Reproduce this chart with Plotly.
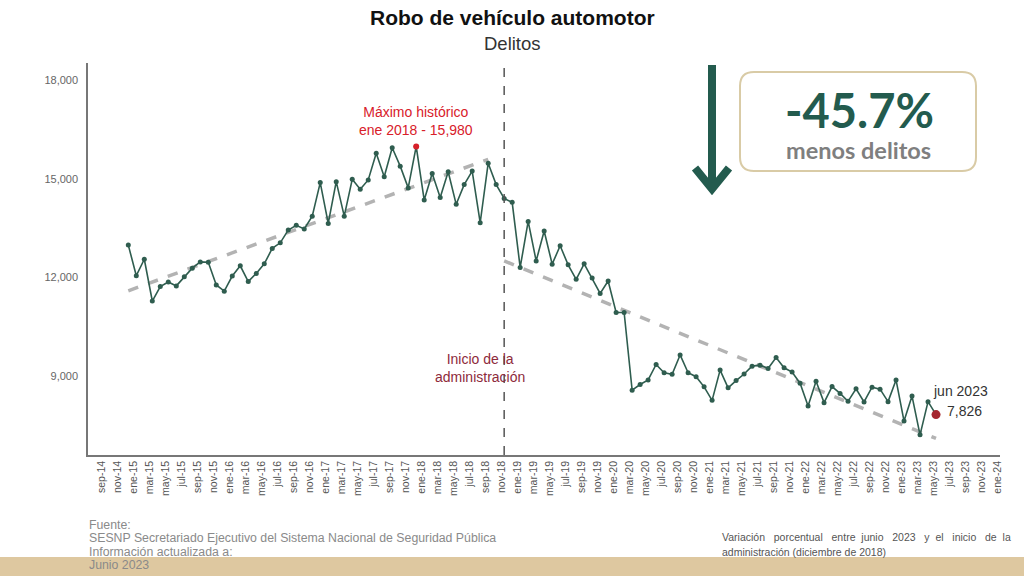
import plotly.graph_objects as go

# month labels (Spanish abbreviations)
MESES = ["ene", "feb", "mar", "abr", "may", "jun", "jul", "ago", "sep", "oct", "nov", "dic"]

months = [f"{m}-{y:02d}" for y in range(15, 24) for m in MESES][:102]  # ene-15 .. jun-23

delitos = [
    12980, 12050, 12550, 11280, 11720, 11860, 11740, 12020, 12280, 12470, 12460, 11770,
    11580, 12040, 12350, 11870, 12120, 12410, 12880, 13050, 13440, 13580, 13470, 13860,
    14880, 13640, 14910, 13860, 14980, 14680, 14960, 15770, 15060, 15940, 15380, 14720,
    15980, 14350, 15160, 14430, 15210, 14220, 14820, 15230, 13660, 15470, 14820, 14400,
    14280, 12300, 13700, 12500, 13410, 12400, 12960, 12380, 11940, 12410, 11980, 11510,
    11890, 10930, 10930, 8570, 8740, 8880, 9350, 9100, 9050, 9640, 9100, 8980,
    8670, 8260, 9180, 8640, 8860, 9060, 9300, 9330, 9230, 9560, 9250, 9120,
    8780, 8090, 8840, 8190, 8680, 8470, 8230, 8610, 8210, 8660, 8600, 8220,
    8880, 7630, 8390, 7210, 8220, 7826,
]

trend_pre_months = ["ene-15", "oct-18"]
trend_pre_values = [11590, 15590]
trend_post_months = ["dic-18", "jun-23"]
trend_post_values = [12500, 7100]

max_month, max_value = "ene-18", 15980
last_month, last_value = "jun-23", 7826
inicio_month = "dic-18"

tick_labels = [f"{m}-{y:02d}" for y in range(14, 25) for m in MESES[::2]]
tick_labels = tick_labels[tick_labels.index("sep-14"):tick_labels.index("ene-24") + 1]

fuente_lines = [
    "Fuente:",
    "SESNP Secretariado Ejecutivo del Sistema Nacional de Seguridad Pública",
    "Información actualizada a:",
    "Junio 2023",
]
nota_line1 = ["Variación", "porcentual", "entre", "junio", "2023", "y", "el", "inicio", "de", "la"]
nota_line2 = "administración (diciembre de 2018)"


def idx(label):
    # month index counted from sep-14
    m, y = label.split("-")
    return (int(y) - 14) * 12 + MESES.index(m) - 8


GREEN = "#2f5d4f"
DARK_GREEN = "#235b4e"

# plot area in pixels
L, R, T, B = 88, 1000, 63, 455
W, H = 1024, 576


def px(x):
    return (x - L) / (R - L)


def py(y):
    return (B - y) / (B - T)


fig = go.Figure()

fig.add_trace(go.Scatter(
    x=[idx(m) for m in trend_pre_months], y=trend_pre_values, mode="lines",
    line=dict(color="#b3b3b3", width=3.5, dash="dash"), hoverinfo="skip"))
fig.add_trace(go.Scatter(
    x=[idx(m) for m in trend_post_months], y=trend_post_values, mode="lines",
    line=dict(color="#b3b3b3", width=3.5, dash="dash"), hoverinfo="skip"))

fig.add_trace(go.Scatter(
    x=[idx(m) for m in months], y=delitos, mode="lines+markers",
    line=dict(color=GREEN, width=1.6), marker=dict(color=GREEN, size=5),
    text=months, hovertemplate="%{text}: %{y:,}<extra></extra>"))

fig.add_trace(go.Scatter(
    x=[idx(max_month)], y=[max_value], mode="markers",
    marker=dict(color="#d8202a", size=6), hoverinfo="skip"))
fig.add_trace(go.Scatter(
    x=[idx(last_month)], y=[last_value], mode="markers",
    marker=dict(color="#a4262f", size=9), hoverinfo="skip"))

shapes = [
    # tan footer band
    dict(type="rect", xref="paper", yref="paper", x0=px(0), x1=px(W), y0=py(576), y1=py(557),
         fillcolor="#dec8a0", line=dict(width=0), layer="below"),
    # start of administration line
    dict(type="line", xref="x", yref="paper", x0=idx(inicio_month), x1=idx(inicio_month),
         y0=0, y1=1, line=dict(color="#555555", width=1.5, dash="dash")),
    # arrow
    dict(type="line", xref="paper", yref="paper", x0=px(712), x1=px(712), y0=py(65), y1=py(188),
         line=dict(color=DARK_GREEN, width=8)),
    dict(type="path", xref="paper", yref="paper",
         path=f"M {px(695)} {py(168)} L {px(712)} {py(189)} L {px(729)} {py(168)}",
         line=dict(color=DARK_GREEN, width=8)),
]

# rounded box
bx0, bx1, by0, by1, r = 740, 976, 72, 171, 14
path = (f"M {px(bx0 + r)} {py(by0)} L {px(bx1 - r)} {py(by0)} "
        f"Q {px(bx1)} {py(by0)} {px(bx1)} {py(by0 + r)} L {px(bx1)} {py(by1 - r)} "
        f"Q {px(bx1)} {py(by1)} {px(bx1 - r)} {py(by1)} L {px(bx0 + r)} {py(by1)} "
        f"Q {px(bx0)} {py(by1)} {px(bx0)} {py(by1 - r)} L {px(bx0)} {py(by0 + r)} "
        f"Q {px(bx0)} {py(by0)} {px(bx0 + r)} {py(by0)} Z")
shapes.append(dict(type="path", xref="paper", yref="paper", path=path,
                   fillcolor="white", line=dict(color="#d9cba6", width=2)))

# justified first line of the note: pad the gaps with non-breaking spaces
gap_pad = [2, 2, 1, 2, 2, 1, 2, 2, 1]
nota_text1 = nota_line1[0]
for w, k in zip(nota_line1[1:], gap_pad):
    nota_text1 += " " + "\u00a0" * k + w

ann = [
    dict(text="<b>Robo de vehículo automotor</b>", x=px(512), y=py(17),
         font=dict(size=21, color="#111111")),
    dict(text="Delitos", x=px(512), y=py(43), font=dict(size=18.5, color="#333333")),
    dict(text="Máximo histórico<br>ene 2018 - 15,980", x=idx(max_month), xref="x",
         y=py(121), font=dict(size=14, color="#d8202a")),
    dict(text="Inicio de la<br>administración", x=px(480), y=py(368),
         font=dict(size=14, color="#8e2a3b")),
    dict(text="jun 2023", x=px(931), y=py(391), xanchor="left",
         font=dict(size=14, color="#333333")),
    dict(text=f"{last_value:,}", x=px(945), y=py(411), xanchor="left",
         font=dict(size=14, color="#333333")),
    dict(text="<b>-45.7%</b>", x=px(859), y=py(110),
         font=dict(size=47, color=DARK_GREEN, family="Lato")),
    dict(text="<b>menos delitos</b>", x=px(858), y=py(150),
         font=dict(size=23.5, color="#7f7f7f", family="Lato")),
    dict(text=nota_text1, x=px(720), y=py(537), xanchor="left",
         font=dict(size=10.5, color="#555555")),
    dict(text=nota_line2, x=px(720), y=py(552), xanchor="left",
         font=dict(size=10.5, color="#555555")),
]
for i, line in enumerate(fuente_lines):
    ann.append(dict(text=line, x=px(87), y=py(525 + i * 13.4), xanchor="left",
                    font=dict(size=12.3, color="#8a8a8a")))

for a in ann:
    a.setdefault("xref", "paper")
    a.setdefault("yref", "paper")
    a.setdefault("showarrow", False)
    a.setdefault("yanchor", "middle")
    a.setdefault("xanchor", "center")

fig.update_layout(
    width=W, height=H,
    margin=dict(l=L, r=W - R, t=T, b=H - B),
    paper_bgcolor="white", plot_bgcolor="rgba(0,0,0,0)",
    showlegend=False,
    font=dict(family="Liberation Sans, Arial, sans-serif"),
    shapes=shapes, annotations=ann,
)

fig.update_xaxes(
    range=[-1.04, 113.0], tickmode="array",
    tickvals=[idx(t) + 0.7 for t in tick_labels], ticktext=tick_labels,
    tickangle=-90, tickfont=dict(size=10.5, color="#555555"),
    showgrid=False, zeroline=False, showline=True, linecolor="#777777", linewidth=1.5,
    ticks="",
)
fig.update_yaxes(
    range=[6598, 18517], tickvals=[9000, 12000, 15000, 18000], tickformat=",",
    tickfont=dict(size=11, color="#666666"),
    showgrid=False, zeroline=False, showline=True, linecolor="#777777", linewidth=1.5,
    ticks="", ticklabelstandoff=6,
)

fig.write_html("out.html", config={"displayModeBar": False},
               post_script="document.body.style.margin = '0';")
